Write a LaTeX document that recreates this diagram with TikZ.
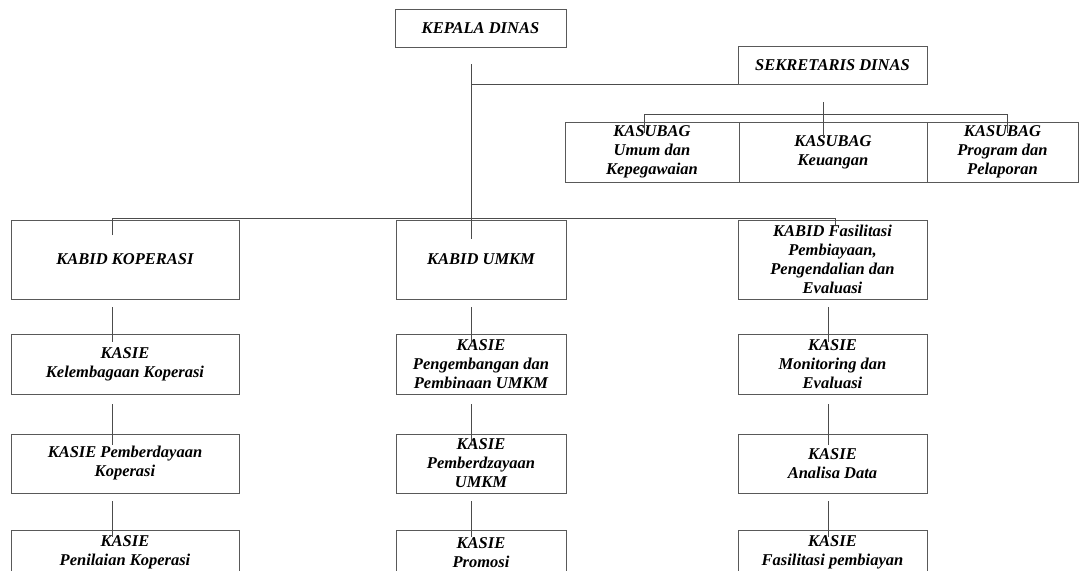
\documentclass[tikz,border=0pt]{standalone}
\usepackage{fontspec}
\setmainfont{Liberation Serif}
\tikzset{
  box/.style={draw=black!65, line width=0.9pt, inner sep=0pt, align=center,
    font=\bfseries\itshape\fontsize{16.5}{19}\selectfont, text=black},
  conn/.style={draw=black!70, line width=0.9pt}
}
\begin{document}
\begin{tikzpicture}[x=1pt,y=-1pt]
\useasboundingbox (0,0) rectangle (1081,570);
\clip (0,0) rectangle (1081,570);
% top level
\node[box, minimum width=171pt, minimum height=38pt] (kep) at (480.5,28) {KEPALA DINAS};
\node[box, minimum width=189pt, minimum height=38pt] (sek) at (832.5,65) {SEKRETARIS DINAS};
% kasubag row
\node[box, minimum width=174pt, minimum height=60pt] (sb1) at (652,152) {KASUBAG\\Umum dan\\Kepegawaian};
\node[box, minimum width=188pt, minimum height=60pt] (sb2) at (833,152) {KASUBAG\\Keuangan};
\node[box, minimum width=151pt, minimum height=60pt] (sb3) at (1002.5,152) {KASUBAG\\Program dan\\Pelaporan};
% kabid row
\node[box, minimum width=228pt, minimum height=79pt] (kk) at (125,259.5) {KABID KOPERASI};
\node[box, minimum width=170pt, minimum height=79pt] (ku) at (481,259.5) {KABID UMKM};
\node[box, minimum width=189pt, minimum height=79pt] (kf) at (832.5,259.5) {KABID Fasilitasi\\Pembiayaan,\\Pengendalian dan\\Evaluasi};
% kasie rows - left
\node[box, minimum width=228pt, minimum height=60pt] (k2) at (125,364) {KASIE\\Kelembagaan Koperasi};
\node[box, minimum width=228pt, minimum height=59pt] (k3) at (125,463.5) {KASIE Pemberdayaan\\Koperasi};
\node[box, minimum width=228pt, minimum height=45pt] (k4) at (125,552.5) {KASIE\\Penilaian Koperasi};
% middle
\node[box, minimum width=170pt, minimum height=60pt] (u2) at (481,364) {KASIE\\Pengembangan dan\\Pembinaan UMKM};
\node[box, minimum width=170pt, minimum height=59pt] (u3) at (481,463.5) {KASIE\\Pemberdzayaan\\UMKM};
\node[box, minimum width=170pt, minimum height=45pt] (u4) at (481,552.5) {KASIE\\Promosi};
% right
\node[box, minimum width=189pt, minimum height=60pt] (f2) at (832.5,364) {KASIE\\Monitoring dan\\Evaluasi};
\node[box, minimum width=189pt, minimum height=59pt] (f3) at (832.5,463.5) {KASIE\\Analisa Data};
\node[box, minimum width=189pt, minimum height=45pt] (f4) at (832.5,552.5) {KASIE\\Fasilitasi pembiayan};
% trunk
\coordinate (t0) at (471,64);
\coordinate (t1) at (471,239);
\draw[conn] (t0) -- (t1);
\draw[conn] (t0 |- sek.south west) -- (sek.south west);
% sekretaris tree
\coordinate (s0) at (823,102);
\coordinate (s1) at (823,138);
\draw[conn] (s0) -- (s1);
\coordinate (sl) at (644,133);
\coordinate (sr) at (1007,133);
\draw[conn] (sl) -- ++(0,-19) -| (sr);
% kabid bar
\coordinate (bl) at (112,235);
\coordinate (br) at (835,225);
\draw[conn] (bl) -- ++(0,-17) -| (br);
% column connectors
\draw[conn] ([xshift=-13pt,yshift=-8pt]kk.south) -- ([xshift=-13pt,yshift=-8pt]k2.north);
\draw[conn] ([xshift=-13pt,yshift=-10pt]k2.south) -- ([xshift=-13pt,yshift=-11pt]k3.north);
\draw[conn] ([xshift=-13pt,yshift=-8pt]k3.south) -- ([xshift=-13pt,yshift=-7pt]k4.north);
\draw[conn] ([xshift=-10pt,yshift=-8pt]ku.south) -- ([xshift=-10pt,yshift=-8pt]u2.north);
\draw[conn] ([xshift=-10pt,yshift=-10pt]u2.south) -- ([xshift=-10pt,yshift=-11pt]u3.north);
\draw[conn] ([xshift=-10pt,yshift=-8pt]u3.south) -- ([xshift=-10pt,yshift=-7pt]u4.north);
\draw[conn] ([xshift=-4.5pt,yshift=-8pt]kf.south) -- ([xshift=-4.5pt,yshift=-8pt]f2.north);
\draw[conn] ([xshift=-4.5pt,yshift=-10pt]f2.south) -- ([xshift=-4.5pt,yshift=-11pt]f3.north);
\draw[conn] ([xshift=-4.5pt,yshift=-8pt]f3.south) -- ([xshift=-4.5pt,yshift=-7pt]f4.north);
\end{tikzpicture}
\end{document}
